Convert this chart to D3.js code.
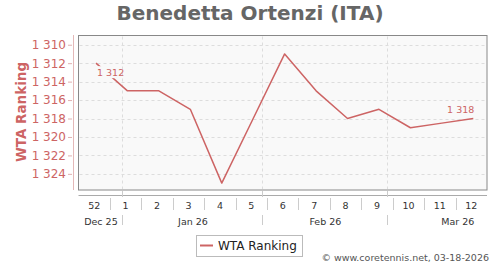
<!DOCTYPE html>
<html><head><meta charset="utf-8">
<script src="https://cdn.jsdelivr.net/npm/d3@7"></script>
<style>body{margin:0;background:#fff;}svg{display:block;font-family:"DejaVu Sans",sans-serif;}</style>
</head><body>
<svg id="c" width="500" height="270"></svg>
<script>
const titleText = "Benedetta Ortenzi (ITA)";
const seriesName = "WTA Ranking";
const weeks = ["52","1","2","3","4","5","6","7","8","9","10","11","12"];
const rankings = [1312,1315,1315,1317,1325,1318,1311,1315,1318,1317,1319,1318.5,1318];
const yTicks = [1310,1312,1314,1316,1318,1320,1322,1324];
const months = ["Dec 25","Jan 26","Feb 26","Mar 26"];
const monthStarts = [new Date(2025,11,1),new Date(2026,0,1),new Date(2026,1,1),new Date(2026,2,1),new Date(2026,3,1)];
const firstWeekStart = new Date(2025,11,22);
const lastWeekEnd = new Date(2026,2,23);
const footer = "\u00A9 www.coretennis.net, 03-18-2026";

const lineColor = "#cd6464";
const fmt = v => d3.format(",")(v).replace(/,/g," ");
const svg = d3.select("#c");
const L=78.5, R=487, T=35.5, B=190;

const xBand = d3.scaleBand().domain(weeks).range([L,R]);
const x = d3.scalePoint().domain(weeks).range([L+17.5, R-13.7]);
const y = d3.scaleLinear().domain([1309,1325.75]).range([T,B]);
const xt = d3.scaleTime().domain([firstWeekStart,lastWeekEnd]).range([L,R]);

// title
svg.append("text").attr("x",250).attr("y",20).attr("text-anchor","middle")
  .attr("font-size",20).attr("font-weight","bold").attr("fill","#666").text(titleText);

// plot background
svg.append("rect").attr("x",L).attr("y",T).attr("width",R-L).attr("height",B-T)
  .attr("fill","#f9f9f9").attr("stroke","#888").attr("stroke-width",1);

// horizontal grid
svg.append("g").selectAll("line").data(yTicks).join("line")
  .attr("x1",L+1).attr("x2",R-1).attr("y1",d=>Math.round(y(d))+0.5).attr("y2",d=>Math.round(y(d))+0.5)
  .attr("stroke","#ddd").attr("stroke-dasharray","3,3");
// vertical month grid
const bounds = monthStarts.slice(1,4).map(d=>xt(d));
svg.append("g").selectAll("line").data(bounds).join("line")
  .attr("x1",d=>Math.round(d)-0.5).attr("x2",d=>Math.round(d)-0.5).attr("y1",T+1).attr("y2",B-1)
  .attr("stroke","#ddd").attr("stroke-dasharray","3,3");

// y axis
const yAxis = d3.axisLeft(y).tickValues(yTicks).tickFormat(fmt).tickSize(4).tickPadding(2);
const gy = svg.append("g").attr("transform","translate(72,0)").call(yAxis);
gy.select(".domain").remove();
gy.selectAll(".tick line").attr("stroke","#e0b0b0");
gy.selectAll(".tick text").attr("fill",lineColor).attr("font-size",12).attr("font-family","DejaVu Sans");
svg.append("line").attr("x1",73.5).attr("x2",73.5).attr("y1",35).attr("y2",190).attr("stroke","#e4b8b8");
svg.append("text").attr("transform","translate(26,112) rotate(-90)").attr("text-anchor","middle")
  .attr("font-size",13.5).attr("font-weight","bold").attr("fill",lineColor).text(seriesName);

// x axis
svg.append("line").attr("x1",L).attr("x2",R).attr("y1",195.5).attr("y2",195.5).attr("stroke","#aaa");
const seps = weeks.slice(1).map(w=>xBand(w));
svg.append("g").selectAll("line").data(seps).join("line")
  .attr("x1",d=>Math.round(d)+0.5).attr("x2",d=>Math.round(d)+0.5).attr("y1",198).attr("y2",210).attr("stroke","#ccc");
svg.append("g").selectAll("line").data(bounds).join("line")
  .attr("x1",d=>Math.round(d)-0.5).attr("x2",d=>Math.round(d)-0.5).attr("y1",191).attr("y2",197).attr("stroke","#ccc");
svg.append("g").selectAll("text").data(weeks).join("text")
  .attr("x",d=>xBand(d)+xBand.bandwidth()/2).attr("y",208.5).attr("text-anchor","middle")
  .attr("font-size",9.5).attr("fill","#333").text(d=>d);
svg.append("g").selectAll("line").data(bounds).join("line")
  .attr("x1",d=>Math.round(d)-0.5).attr("x2",d=>Math.round(d)-0.5).attr("y1",215).attr("y2",225).attr("stroke","#ccc");
svg.append("g").selectAll("text").data(months).join("text")
  .attr("x",(d,i)=>{
    const s=Math.max(xt(monthStarts[i]),L), e=Math.min(xt(monthStarts[i+1]),R);
    const mid = xt(new Date((+monthStarts[i]+ +monthStarts[i+1])/2));
    return (mid>=s && mid<=e) ? mid : (s+e)/2;
  })
  .attr("y",224.5).attr("text-anchor","middle").attr("font-size",9.5).attr("fill","#333").text(d=>d);

// line
const pts = weeks.map((w,i)=>({w, v:rankings[i]})).filter(d=>d.v!=null);
svg.append("path").datum(pts).attr("fill","none").attr("stroke",lineColor).attr("stroke-width",1.5)
  .attr("stroke-linejoin","round")
  .attr("d",d3.line().x(d=>x(d.w)).y(d=>y(d.v)));

// value labels
const first = pts[0], last = pts[pts.length-1];
const lab1 = svg.append("g");
lab1.append("rect").attr("x",x(first.w)+1).attr("y",y(first.v)+3).attr("width",25).attr("height",12).attr("fill","#f9f9f9");
lab1.append("text").attr("x",x(first.w)+1).attr("y",y(first.v)+12.5).attr("font-size",9.5)
  .attr("fill",lineColor).text(fmt(first.v));
svg.append("text").attr("x",x(last.w)+1).attr("y",y(last.v)-5.5).attr("text-anchor","end").attr("font-size",9.5)
  .attr("fill",lineColor).text(fmt(last.v));

// legend
const lg = svg.append("g");
lg.append("rect").attr("x",196.5).attr("y",235.5).attr("width",106).attr("height",21).attr("fill","#fff").attr("stroke","#bbb");
lg.append("line").attr("x1",200).attr("x2",213).attr("y1",245.5).attr("y2",245.5).attr("stroke",lineColor).attr("stroke-width",2);
lg.append("text").attr("x",218).attr("y",250).attr("font-size",12).attr("fill","#222").text(seriesName);

// footer
svg.append("text").attr("x",489).attr("y",261).attr("text-anchor","end").attr("font-size",9.5)
  .attr("fill","#555").text(footer);
</script>
</body></html>
